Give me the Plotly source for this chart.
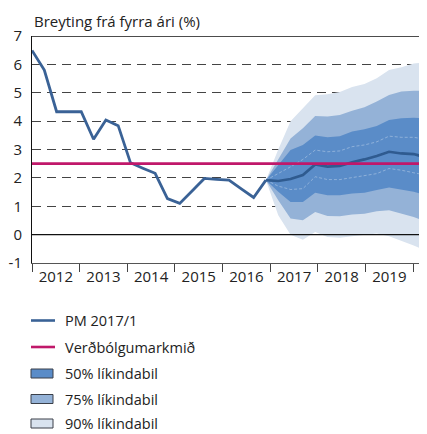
import plotly.graph_objects as go

# ---------------- data ----------------
quarters = [f"{y}Q{q}" for y in range(2012, 2021) for q in range(1, 5)][:33]

hist = [6.49, 5.80, 4.33, 4.33, 4.33, 3.36, 4.04, 3.84, 2.53, 2.34,
        2.16, 1.27, 1.10, 1.54, 1.98, 1.95, 1.92, 1.61, 1.31, 1.92]

median = [1.92, 1.89, 1.96, 2.10, 2.47, 2.40, 2.42, 2.55, 2.65, 2.77, 2.92, 2.86, 2.84, 2.72]
upper50 = [1.92, 2.45, 2.98, 3.16, 3.49, 3.43, 3.47, 3.63, 3.71, 3.83, 4.04, 4.10, 4.12, 4.10]
lower50 = [1.92, 1.51, 1.15, 1.15, 1.48, 1.39, 1.39, 1.45, 1.48, 1.57, 1.66, 1.59, 1.51, 1.39]
upper75 = [1.92, 2.63, 3.39, 3.75, 4.18, 4.16, 4.22, 4.37, 4.49, 4.69, 4.92, 5.04, 5.07, 5.07]
lower75 = [1.92, 1.21, 0.57, 0.51, 0.80, 0.66, 0.65, 0.71, 0.74, 0.82, 0.86, 0.74, 0.62, 0.45]
upper90 = [1.92, 3.00, 4.00, 4.47, 4.91, 4.95, 5.03, 5.20, 5.31, 5.51, 5.80, 5.90, 6.03, 6.08]
lower90 = [1.92, 0.68, 0.00, -0.18, 0.09, -0.08, -0.11, -0.06, 0.00, 0.04, -0.06, -0.23, -0.38, -0.58]
inner_upper = [1.92, 2.15, 2.39, 2.65, 2.98, 2.92, 2.95, 3.10, 3.16, 3.27, 3.47, 3.43, 3.43, 3.36]
inner_lower = [1.92, 1.71, 1.59, 1.62, 2.04, 1.94, 1.94, 2.01, 2.06, 2.15, 2.33, 2.27, 2.18, 2.10]

target = 2.5
years = ["2012", "2013", "2014", "2015", "2016", "2017", "2018", "2019"]
y_ticks = [-1, 0, 1, 2, 3, 4, 5, 6, 7]
year_len = 3.87  # quarter-index units per year on the time axis

legend_names = ["PM 2017/1", "Verðbólgumarkmið", "50% líkindabil", "75% líkindabil", "90% líkindabil"]

# ---------------- build ----------------
n_hist = len(hist)
x_hist = list(range(n_hist))
x_fc = list(range(n_hist - 1, n_hist - 1 + len(median)))
x_all = list(range(len(quarters)))

C90 = "#D9E3EF"
C75 = "#94B2D7"
C50 = "#5A8CC8"
CLINE = "#3A6296"
CTARGET = "#C0186A"
TXT = "#222222"
FONT = "Open Sans"

OFF = 8  # page body margin in the browser
W, H = 427 - OFF, 434 - OFF
ML, MR, MT, MB = 32 - OFF, 1, 36 - OFF, int(round(H - (262.6 - OFF)))

fig = go.Figure()


def band(up, lo, color, name):
    fig.add_trace(go.Scatter(
        x=x_fc + x_fc[::-1], y=up + lo[::-1], fill="toself", fillcolor=color,
        line=dict(width=0), mode="lines", name=name, showlegend=False, hoverinfo="skip"))


band(upper90, lower90, C90, legend_names[4])
band(upper75, lower75, C75, legend_names[3])
band(upper50, lower50, C50, legend_names[2])

for arr in (inner_upper, inner_lower):
    fig.add_trace(go.Scatter(x=x_fc, y=arr, mode="lines",
                             line=dict(color="rgba(255,255,255,0.4)", width=0.8, dash="3px,2px"),
                             showlegend=False, hoverinfo="skip"))

fig.add_trace(go.Scatter(x=x_fc, y=median, mode="lines",
                         line=dict(color="#2F5B90", width=2.7), showlegend=False))
fig.add_trace(go.Scatter(x=x_hist, y=hist, mode="lines", name=legend_names[0],
                         line=dict(color=CLINE, width=2.8), showlegend=False))
fig.add_trace(go.Scatter(x=[x_all[0], x_all[-1]], y=[target, target], mode="lines",
                         name=legend_names[1], line=dict(color=CTARGET, width=2.8),
                         showlegend=False))

# year labels at period centres
mid_vals = [(k + 0.5) * year_len for k in range(len(years))]

# ---- legend drawn below the plot (paper coordinates; page pixels -> figure) ----
plot_w = W - ML - MR
plot_h = H - MT - MB


def px_x(p):
    return (p - OFF - ML) / plot_w


def px_y(p):
    return (H - MB - (p - OFF)) / plot_h


leg_y = [320.5, 347, 373.5, 399, 423.5]
shapes = [
    dict(type="line", xref="paper", yref="y", x0=0, x1=1, y0=0, y1=0,
         line=dict(color="#111111", width=1.3), layer="above"),
    dict(type="line", xref="paper", yref="y", x0=0, x1=1, y0=7, y1=7,
         line=dict(color="#111111", width=1.3), layer="above"),
]
annotations = [dict(text="Breyting frá fyrra ári (%)", xref="paper", yref="paper",
                    x=0, y=1, xanchor="left", yanchor="bottom", yshift=3,
                    showarrow=False, font=dict(family=FONT, size=15, color=TXT))]

line_cols = [CLINE, CTARGET]
fill_cols = [C50, C75, C90]
for i, name in enumerate(legend_names):
    yc = leg_y[i]
    if i < 2:
        shapes.append(dict(type="line", xref="paper", yref="paper",
                           x0=px_x(31), x1=px_x(55), y0=px_y(yc), y1=px_y(yc),
                           line=dict(color=line_cols[i], width=2.6)))
    else:
        shapes.append(dict(type="rect", xref="paper", yref="paper",
                           x0=px_x(31), x1=px_x(53), y0=px_y(yc - 4.5), y1=px_y(yc + 4.5),
                           fillcolor=fill_cols[i - 2], line=dict(color="#3a3f48", width=1)))
    annotations.append(dict(text=name, xref="paper", yref="paper",
                            x=px_x(64), y=px_y(yc), xanchor="left", yanchor="middle",
                            showarrow=False, borderpad=0,
                            font=dict(family=FONT, size=14.5, color=TXT)))

fig.update_layout(
    width=W, height=H,
    margin=dict(l=ML, r=MR, t=MT, b=MB),
    paper_bgcolor="white", plot_bgcolor="white",
    font=dict(family=FONT, size=15, color=TXT),
    showlegend=False,
    xaxis=dict(range=[0, 32], showgrid=False, zeroline=False, automargin=False,
               showline=True, linecolor="#555555", linewidth=1,
               tickvals=mid_vals, ticktext=years, ticks="",
               tickfont=dict(family=FONT, size=15, color=TXT), ticklabelstandoff=0,
               minor=dict(ticks="outside", ticklen=8, tickcolor="#444444", tickwidth=1,
                          tick0=0, dtick=year_len, showgrid=False)),
    yaxis=dict(range=[-1, 7], tickvals=y_ticks, ticktext=[str(v) for v in y_ticks], ticks="",
               automargin=False,
               showgrid=True, gridcolor="#444444", gridwidth=1.1, griddash="9px,6px",
               zeroline=False, showline=True, linecolor="#111111", linewidth=1,
               tickfont=dict(family=FONT, size=15, color=TXT), ticklabelstandoff=6),
    shapes=shapes,
    annotations=annotations,
)

fig.write_html("out.html")
